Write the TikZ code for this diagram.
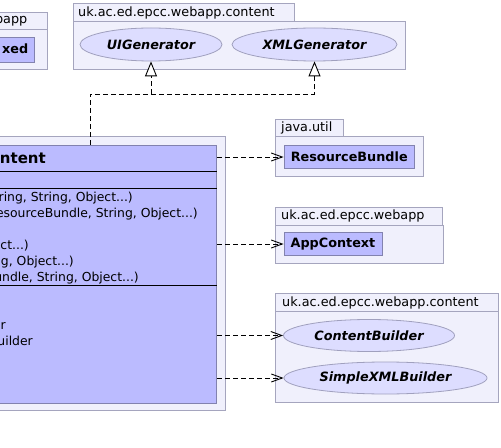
\documentclass[tikz,border=0pt]{standalone}
\usepackage{fontspec}
\setmainfont{DejaVu Sans}
\usetikzlibrary{arrows.meta,shapes.geometric}
\definecolor{pkgfill}{RGB}{240,240,252}
\definecolor{pkgline}{RGB}{165,165,190}
\definecolor{clsfill}{RGB}{187,187,255}
\definecolor{clsline}{RGB}{130,130,175}
\definecolor{ifill}{RGB}{221,221,255}
\definecolor{iline}{RGB}{160,160,190}
\begin{document}
\begin{tikzpicture}[x=1bp,y=-1bp,
  pkg/.style={draw=pkgline, fill=pkgfill, line width=0.9bp},
  cls/.style={draw=clsline, fill=clsfill, line width=0.9bp, inner sep=0pt,
    font=\bfseries\fontsize{12.8bp}{15bp}\selectfont},
  iface/.style={ellipse, draw=iline, fill=ifill, inner sep=0pt, line width=0.8bp,
    font=\bfseries\itshape\fontsize{12.8bp}{15bp}\selectfont},
  lbl/.style={font=\fontsize{12.8bp}{15bp}\selectfont, inner sep=0pt, anchor=base west},
  mtxt/.style={font=\fontsize{12.4bp}{15bp}\selectfont, inner sep=0pt, anchor=base east},
  dep/.style={line width=0.9bp, dash pattern=on 5bp off 3bp, -{Straight Barb[length=11bp,width=8bp]}},
  inh/.style={line width=0.9bp, dash pattern=on 5bp off 3bp, -{Triangle[length=15bp,width=12bp,fill=white]}},
]
\useasboundingbox (0,0) rectangle (501,448);
\clip (0,0) rectangle (501,448);
\fill[white] (0,0) rectangle (501,448);

% top-left package
\draw[pkg] (-20,12) rectangle (47,29);
\draw[pkg] (-20,29) rectangle (47,69);
\node[lbl, anchor=base east] (pkgA) at (27.5,24) {bapp};
\node[cls, anchor=north east, minimum width=55bp, minimum height=25bp] (fixed) at (35,37) {};
\node[inner sep=0pt, anchor=base east, font=\bfseries\fontsize{12.8bp}{15bp}\selectfont] (fixedtxt) at (28.5,54) {xed};

% top package
\draw[pkg] (73,3) rectangle (294,21);
\draw[pkg] (73,21) rectangle (405,69);
\node[lbl] (pkgB) at (78,16.5) {uk.ac.ed.epcc.webapp.content};
\node[iface, minimum width=142bp, minimum height=33bp] (uig) at (151,44.5) {UIGenerator};
\node[iface, minimum width=165bp, minimum height=33bp] (xmlg) at (314.5,44.5) {XMLGenerator};

% main package and class
\draw[pkg] (-20,136) rectangle (225,410);
\node[cls, anchor=north east, minimum width=237bp, minimum height=258bp] (main) at (217,145) {};
\draw[line width=0.9bp] (-20,171.5) -- (217,171.5);
\draw[line width=0.9bp] (-20,188) -- (217,188);
\draw[line width=0.9bp] (-20,285.5) -- (217,285.5);
\node[inner sep=0pt, anchor=base east, font=\bfseries\fontsize{15bp}{18bp}\selectfont] (title) at (46,164) {ntent};
\node[mtxt] (m1) at (133,201.5) {ring, String, Object...)};
\node[mtxt] (m2) at (198,217.5) {esourceBundle, String, Object...)};
\node[mtxt] (m3) at (29,249.5) {ct...)};
\node[mtxt] (m4) at (74,265.5) {g, Object...)};
\node[mtxt] (m5) at (139,281.5) {undle, String, Object...)};
\node[mtxt] (f1) at (6,329) {r};
\node[mtxt] (f2) at (33,345) {uilder};

% java.util
\draw[pkg] (275,119) rectangle (343,136);
\draw[pkg] (275,136) rectangle (423,176);
\node[lbl] (pkgC) at (281,131.5) {java.util};
\node[cls, minimum width=130.5bp, minimum height=23.5bp] (rb) at (349.25,157) {ResourceBundle};

% webapp
\draw[pkg] (275,207) rectangle (442,225);
\node[lbl] (pkgD) at (281,219.5) {uk.ac.ed.epcc.webapp};
\draw[pkg] (275,225) rectangle (443,263);
\node[cls, minimum width=98bp, minimum height=23.5bp] (app) at (333,244) {AppContext};

% webapp.content
\draw[pkg] (275,293) rectangle (498,311);
\draw[pkg] (275,311) rectangle (498,402);
\node[lbl] (pkgE) at (282,306) {uk.ac.ed.epcc.webapp.content};
\node[iface, minimum width=171bp, minimum height=32bp] (cb) at (369,335.5) {ContentBuilder};
\node[iface, minimum width=203bp, minimum height=32bp] (sxb) at (385.5,378) {SimpleXMLBuilder};

% dependencies
\draw[dep] (main.east |- rb.west) -- (rb.west);
\draw[dep] (main.east |- app.west) -- (app.west);
\draw[dep] (main.east |- cb.west) -- (cb.west);
\draw[dep] (main.east |- sxb.west) -- (sxb.west);

% realisation
\coordinate (j) at (90,94);
\draw[inh] (main.north -| j) -- (j) -- (j -| xmlg.south) -- (xmlg.south);
\draw[inh] (j -| uig.south) -- (uig.south);
\end{tikzpicture}
\end{document}
